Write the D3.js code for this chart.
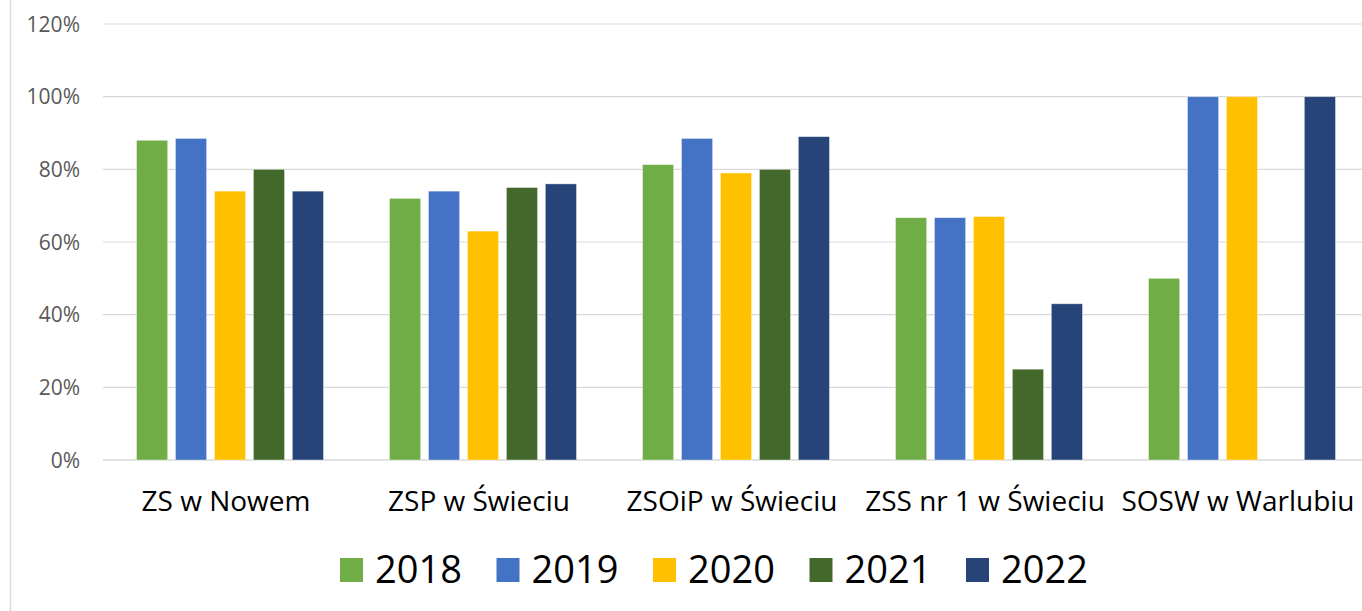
<!DOCTYPE html>
<html>
<head>
<meta charset="utf-8">
<script src="https://d3js.org/d3.v7.min.js"></script>
<style>
  body { margin: 0; background: #fff; }
  text { font-family: "Open Sans", sans-serif; }
</style>
</head>
<body>
<svg id="chart"></svg>
<script>
// data (percent)
var schools = ["ZS w Nowem", "ZSP w Świeciu", "ZSOiP w Świeciu", "ZSS nr 1 w Świeciu", "SOSW w Warlubiu"];
var years = ["2018", "2019", "2020", "2021", "2022"];
var v2018 = [88, 72, 81.3, 66.7, 50];
var v2019 = [88.5, 74, 88.5, 66.7, 100];
var v2020 = [74, 63, 79, 67, 100];
var v2021 = [80, 75, 80, 25, 0];
var v2022 = [74, 76, 89, 43, 100];
var yTicks = [0, 20, 40, 60, 80, 100, 120];
var colors = ["#70AD47", "#4472C4", "#FFC000", "#43682B", "#264478"];

var series = [v2018, v2019, v2020, v2021, v2022];

var W = 1362, H = 611;
var svg = d3.select("#chart").attr("width", W).attr("height", H);

// chart frame (left edge only visible)
svg.append("line")
    .attr("x1", 10.5).attr("x2", 10.5)
    .attr("y1", 0).attr("y2", H)
    .attr("stroke", "#D9D9D9").attr("stroke-width", 1.5);

var x0 = d3.scaleBand().domain(schools).range([103.5, 1368.5]);
var x1 = d3.scaleBand().domain(years).range([33, 220]).paddingInner(0.2);
var y = d3.scaleLinear().domain([0, 120]).range([460, 24]);

// gridlines
svg.append("g").selectAll("line")
    .data(yTicks)
    .enter()
    .append("line")
    .attr("x1", 103).attr("x2", W)
    .attr("y1", function(d){ return y(d); })
    .attr("y2", function(d){ return y(d); })
    .attr("stroke", "#D9D9D9")
    .attr("stroke-width", function(d){ return d == 0 ? 1.5 : 1.2; });

// y axis labels
svg.append("g").selectAll("text")
    .data(yTicks)
    .enter()
    .append("text")
    .attr("x", 80)
    .attr("y", function(d){ return y(d); })
    .attr("dy", "0.36em")
    .attr("text-anchor", "end")
    .attr("font-size", 21)
    .attr("fill", "#595959")
    .text(function(d){ return d + "%"; });

// bars
var groups = svg.append("g").selectAll("g")
    .data(schools)
    .enter()
    .append("g")
    .attr("transform", function(d){ return "translate(" + x0(d) + ",0)"; });

groups.selectAll("rect")
    .data(function(d, i){
        return years.map(function(yr, j){ return {year: yr, value: series[j][i], color: colors[j]}; });
    })
    .enter()
    .append("rect")
    .filter(function(d){ return d.value > 0; })
    .attr("x", function(d){ return x1(d.year); })
    .attr("width", x1.bandwidth())
    .attr("y", function(d){ return y(d.value); })
    .attr("height", function(d){ return y(0) - y(d.value); })
    .attr("fill", function(d){ return d.color; })
    .attr("stroke", "rgba(255,255,255,0.5)")
    .attr("stroke-width", 0.8);

// category labels
svg.append("g").selectAll("text")
    .data(schools)
    .enter()
    .append("text")
    .attr("x", function(d){ return x0(d) + x0.bandwidth() / 2 - 4; })
    .attr("y", 511)
    .attr("text-anchor", "middle")
    .attr("font-size", 28)
    .attr("fill", "#000")
    .text(function(d){ return d; });

// legend
var legend = svg.append("g").selectAll("g")
    .data(years)
    .enter()
    .append("g")
    .attr("transform", function(d, i){ return "translate(" + (340 + i * 156.5) + ",558)"; });

legend.append("rect")
    .attr("width", 23).attr("height", 24)
    .attr("fill", function(d, i){ return colors[i]; });

legend.append("text")
    .attr("x", 35)
    .attr("y", 25)
    .attr("font-size", 38)
    .attr("fill", "#000")
    .text(function(d){ return d; });
</script>
</body>
</html>
